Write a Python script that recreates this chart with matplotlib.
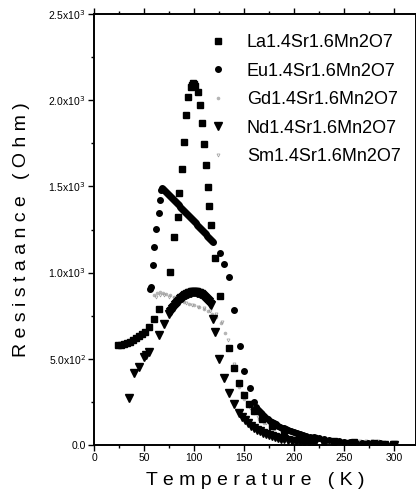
import numpy as np
import matplotlib
matplotlib.use("Agg")
import matplotlib.pyplot as plt
from matplotlib.ticker import FuncFormatter, MultipleLocator

plt.rcParams['font.family'] = ['Liberation Sans', 'DejaVu Sans']

# La1.4Sr1.6Mn2O7 (squares)
la_T = [24, 27, 30, 33, 36, 39, 42, 45, 48, 51, 55, 60, 65, 76, 80, 84, 85, 88, 90, 92,
        94, 97, 98, 99, 100, 101, 104, 106, 108, 110, 112, 114, 115, 117, 121, 126, 135,
        140, 145, 150, 155, 160, 168, 178, 190, 205, 220, 240, 260, 280, 300]
la_R = [578, 581, 585, 591, 598, 607, 618, 630, 642, 655, 684, 731, 789, 1003, 1206, 1322,
        1462, 1601, 1758, 1914, 2018, 2075, 2090, 2098, 2095, 2085, 2048, 1972, 1868, 1746,
        1624, 1497, 1386, 1276, 1085, 864, 563, 447, 360, 290, 235, 195, 150, 112, 80, 56,
        40, 26, 17, 11, 7]

# Eu1.4Sr1.6Mn2O7 (circles)
eu_T = [56, 57, 59, 60, 62, 65, 66, 67, 68, 69, 70, 71, 72, 73, 74, 75, 76, 77, 78, 79, 80,
        81, 82, 83, 84, 85, 86, 87, 88, 89, 90, 91, 92, 93, 94, 95, 96, 97, 98, 99, 100,
        101, 102, 103, 104, 105, 106, 107, 108, 109, 110, 111, 112, 113, 114, 115, 116,
        117, 118, 119, 126, 130, 135, 140, 146, 150, 156, 160, 162, 163, 164, 165, 166,
        167, 168, 170, 172, 174, 176, 178, 180, 182, 184, 186, 188, 190, 192, 194, 197,
        200, 203, 206, 209, 212, 216, 220, 225, 230, 235, 240, 245, 250, 256, 262, 268,
        274, 280, 286, 292, 298]
eu_R = [905, 916, 1044, 1148, 1253, 1346, 1421, 1480, 1490, 1486, 1480, 1474, 1468, 1462,
        1456, 1450, 1444, 1438, 1432, 1426, 1420, 1414, 1408, 1402, 1396, 1390, 1383, 1377,
        1371, 1365, 1359, 1353, 1346, 1340, 1334, 1328, 1322, 1316, 1310, 1303, 1297, 1291,
        1285, 1279, 1272, 1266, 1260, 1253, 1247, 1241, 1234, 1228, 1222, 1215, 1209, 1202,
        1196, 1189, 1182, 1175, 1114, 1050, 974, 783, 574, 432, 331, 249, 222, 210, 202,
        196, 190, 184, 178, 168, 159, 150, 142, 134, 127, 120, 113, 107, 101, 96, 91, 86,
        80, 74, 69, 64, 59, 55, 49, 44, 38, 33, 29, 25, 22, 19, 16, 14, 12, 11, 10, 9, 8, 7]

# Gd1.4Sr1.6Mn2O7 (faint dots)
gd_T = [60, 63, 66, 69, 72, 76, 80, 85, 90, 95, 100, 105, 110, 114, 118, 122, 127, 131,
        135, 140, 145, 150, 155, 160, 165, 170, 180, 190, 200, 210, 220, 230, 240, 250,
        260, 270, 280, 290, 300]
gd_R = [870, 880, 885, 882, 876, 868, 858, 846, 832, 820, 810, 800, 790, 778, 760, 740,
        705, 650, 570, 450, 335, 268, 228, 188, 152, 126, 90, 65, 48, 36, 28, 23, 20, 18,
        17, 16, 15, 14, 13]

# Nd1.4Sr1.6Mn2O7 (down triangles)
nd_T = [35, 40, 45, 50, 52, 55, 65, 70, 75, 76, 77, 78, 79, 80, 81, 82, 83, 84, 85, 86, 87,
        88, 89, 90, 91, 92, 93, 94, 95, 96, 97, 98, 99, 100, 101, 102, 103, 104, 105, 106,
        107, 108, 109, 110, 111, 112, 113, 114, 115, 116, 117, 119, 121, 125, 130, 135,
        140, 145, 148, 151, 154, 157, 160, 163, 166, 169, 172, 175, 178, 181, 184, 187,
        190, 194, 198, 202, 206, 210, 215, 220, 230, 240, 250, 260, 270, 280, 290, 300]
nd_R = [270, 415, 452, 508, 522, 540, 640, 699, 760, 770, 778, 787, 795, 803, 810, 817,
        824, 831, 838, 844, 850, 855, 860, 864, 868, 872, 875, 878, 880, 882, 884, 885, 886,
        886, 886, 885, 884, 882, 880, 877, 874, 870, 866, 861, 855, 849, 842, 835, 828,
        820, 812, 728, 655, 500, 390, 302, 238, 186, 164, 144, 127, 112, 99, 88, 79, 70, 63,
        56, 50, 45, 40, 36, 32, 27, 23, 19, 16, 13, 10, 8, 5, 4, 3, 2, 2, 1, 1, 1]

# Sm1.4Sr1.6Mn2O7 (faint small triangles)
sm_T = [62, 66, 70, 75, 80, 86, 92, 98, 104, 110, 116, 122, 128, 134, 140, 148, 156, 164,
        172, 180, 190, 200, 212, 224, 236, 248, 258, 266, 272, 278, 284, 290]
sm_R = [860, 870, 868, 860, 850, 838, 824, 812, 802, 792, 780, 762, 715, 610, 470, 300,
        215, 165, 128, 100, 72, 55, 40, 32, 27, 24, 23, 22, 22, 21, 21, 20]

labels = ['La1.4Sr1.6Mn2O7', 'Eu1.4Sr1.6Mn2O7', 'Gd1.4Sr1.6Mn2O7',
          'Nd1.4Sr1.6Mn2O7', 'Sm1.4Sr1.6Mn2O7']

fig = plt.figure(figsize=(4.16, 4.96), dpi=100)
ax = fig.add_axes([94 / 416, 51 / 496, 322 / 416, 431 / 496])

ax.plot(gd_T, gd_R, ls='none', marker='o', ms=1.6, color='#b5b5b5', label=labels[2])
ax.plot(sm_T, sm_R, ls='none', marker='v', ms=2.2, color='#9a9a9a', mfc='none',
        mew=0.5, label=labels[4])
ax.plot(la_T, la_R, ls='none', marker='s', ms=4.2, color='black', label=labels[0])
ax.plot(eu_T, eu_R, ls='none', marker='o', ms=4.0, color='black', label=labels[1])
ax.plot(nd_T, nd_R, ls='none', marker='v', ms=5.2, color='black', label=labels[3])

ax.set_xlim(0, 322)
ax.set_ylim(0, 2500)

ax.xaxis.set_major_locator(MultipleLocator(50))
ax.xaxis.set_minor_locator(MultipleLocator(25))
ax.yaxis.set_major_locator(MultipleLocator(500))
ax.yaxis.set_minor_locator(MultipleLocator(250))


def fmt_y(v, pos):
    if v <= 0:
        return '0.0'
    e = int(np.floor(np.log10(v)))
    return '%.1fx10$^{%d}$' % (v / 10 ** e, e)


ax.yaxis.set_major_formatter(FuncFormatter(fmt_y))
ax.tick_params(which='both', direction='out', labelsize=7.5, width=1.0, pad=2)
ax.tick_params(which='major', length=4)
ax.tick_params(which='minor', length=2)
ax.tick_params(which='both', top=True, right=True)
for s in ax.spines.values():
    s.set_linewidth(1.4)

ax.set_xlabel('T e m p e r a t u r e   ( K )', fontsize=14, labelpad=6)
ax.set_ylabel('R e s i s t a a n c e   ( O h m )', fontsize=14, labelpad=13)

handles, labs = ax.get_legend_handles_labels()
order = [labs.index(l) for l in labels]
leg = ax.legend([handles[i] for i in order], [labs[i] for i in order],
                loc='upper left', bbox_to_anchor=(209 / 416, 1 - 34 / 496),
                bbox_transform=fig.transFigure, frameon=False, fontsize=13,
                handlelength=1.0, handletextpad=1.1, labelspacing=0.64,
                borderpad=0, borderaxespad=0)

fig.savefig('out.png', dpi=100)
